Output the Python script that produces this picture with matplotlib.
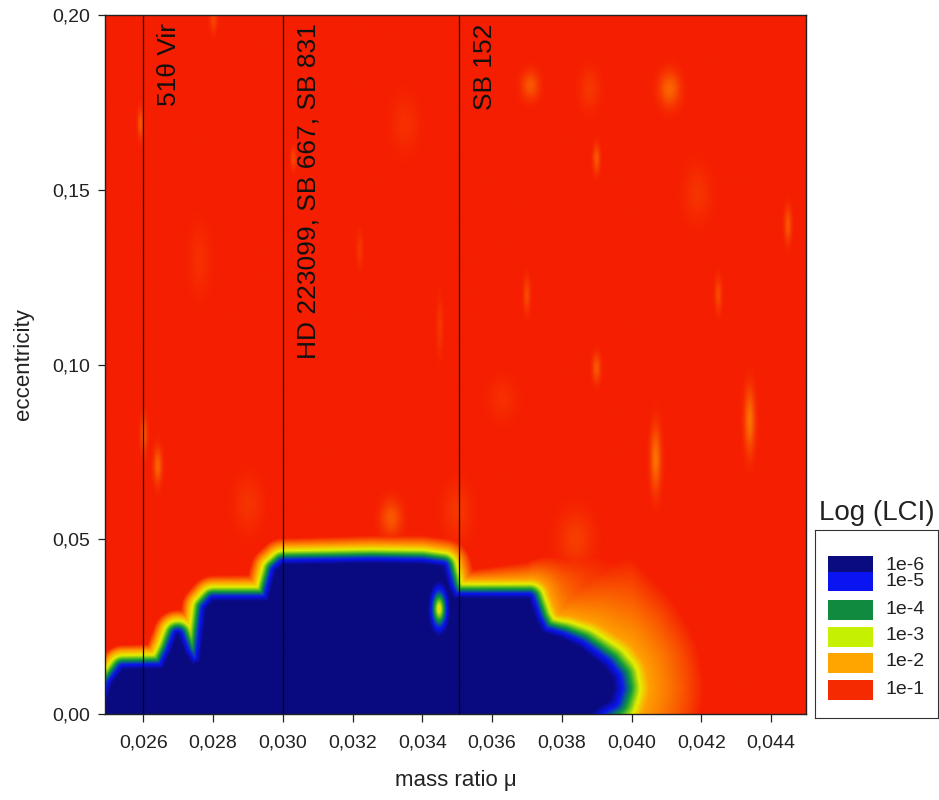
import numpy as np
import matplotlib
matplotlib.use("Agg")
import matplotlib.pyplot as plt
from matplotlib.colors import LinearSegmentedColormap
from matplotlib.path import Path
from matplotlib.patches import Rectangle
from matplotlib.ticker import FuncFormatter, FixedLocator

plt.rcParams['font.family'] = ['Liberation Sans', 'DejaVu Sans']

# ---------------- data ----------------
# outline of the regular region (log LCI ~ -6), mass ratio / eccentricity
stable_mu = [0.0240, 0.02490, 0.02510, 0.02540, 0.02655, 0.02680, 0.02697,
             0.02716, 0.02740, 0.02762, 0.02780, 0.02800, 0.02957, 0.02980, 0.03000,
             0.03250, 0.03400, 0.03458, 0.03474, 0.03490, 0.03705, 0.03725, 0.03745,
             0.03800, 0.03850, 0.03900, 0.03920, 0.03945, 0.03950, 0.03940, 0.03900,
             0.03885]
stable_e = [0.0000, 0.0025, 0.0085, 0.0126, 0.0128, 0.0180, 0.0225,
            0.0176, 0.0138, 0.0150, 0.0300, 0.0322, 0.0322, 0.0408, 0.0426,
            0.0430, 0.0428, 0.0420, 0.0360, 0.0330, 0.0329, 0.0270, 0.0232,
            0.0215, 0.0190, 0.0150, 0.0134, 0.0100, 0.0073, 0.0040, 0.0014,
            0.0000]
purple_top_e = 0.008

# width of the transition band (axis-fraction distance) along the mass ratio
band_mu = [0.0249, 0.0355, 0.0370, 0.0380, 0.0390, 0.0400, 0.0420, 0.0450]
core_width = [0.027, 0.027, 0.028, 0.032, 0.042, 0.050, 0.050, 0.050]
fade_width = [0.008, 0.015, 0.025, 0.045, 0.075, 0.100, 0.080, 0.050]

# chaotic island inside the regular region
hole_mu = [0.03448]
hole_e = [0.0300]
hole_rmu = [0.00032]
hole_re = [0.0080]
hole_peak = [-2.6]

# faint less-chaotic spots in the chaotic sea
spot_mu = [0.0259, 0.0280, 0.0303, 0.0335, 0.0371, 0.0388, 0.0411, 0.0390, 0.0419,
           0.0445, 0.0370, 0.0425, 0.0390, 0.0363, 0.0407, 0.0434, 0.0260, 0.0264,
           0.0345, 0.0331, 0.0322, 0.0276, 0.0290, 0.0350, 0.0384]
spot_e = [0.169, 0.199, 0.159, 0.169, 0.180, 0.179, 0.179, 0.159, 0.149,
          0.140, 0.120, 0.120, 0.099, 0.090, 0.073, 0.084, 0.080, 0.071,
          0.111, 0.056, 0.133, 0.130, 0.060, 0.058, 0.050]
spot_amp = [0.45, 0.3, 0.35, 0.15, 0.45, 0.2, 0.55, 0.45, 0.18,
            0.45, 0.35, 0.35, 0.45, 0.15, 0.65, 0.65, 0.45, 0.55,
            0.2, 0.45, 0.2, 0.15, 0.18, 0.2, 0.25]
spot_wmu = [0.00008, 0.0001, 0.00008, 0.0004, 0.00025, 0.0003, 0.0003, 0.0001, 0.0004,
            0.0001, 0.0001, 0.0001, 0.00012, 0.0004, 0.00015, 0.00015, 0.0001, 0.00012,
            0.0001, 0.0003, 0.0001, 0.0003, 0.0004, 0.0004, 0.0005]
spot_we = [0.004, 0.004, 0.003, 0.008, 0.004, 0.006, 0.005, 0.004, 0.008,
           0.005, 0.005, 0.005, 0.004, 0.006, 0.009, 0.009, 0.005, 0.005,
           0.008, 0.005, 0.005, 0.010, 0.008, 0.008, 0.008]

legend_labels = ['1e-6', '1e-5', '1e-4', '1e-3', '1e-2', '1e-1']
legend_colors = ['#0b0b80', '#0a14f0', '#0f8a3f', '#c5f000', '#ffa500', '#f52a00']

star_mu = [0.026, 0.030, 0.03505]
star_labels = ['51\u03b8 Vir', 'HD 223099, SB 667, SB 831', 'SB 152']

x_ticks = [0.026, 0.028, 0.030, 0.032, 0.034, 0.036, 0.038, 0.040, 0.042, 0.044]
y_ticks = [0.00, 0.05, 0.10, 0.15, 0.20]
mu_lim = (0.0249, 0.0450)
e_lim = (0.0, 0.2)

# ---------------- build the field ----------------
nx, ny = 600, 600
mu = np.linspace(mu_lim[0], mu_lim[1], nx)
ee = np.linspace(e_lim[0], e_lim[1], ny)
MU, EE = np.meshgrid(mu, ee)
U = (MU - mu_lim[0]) / (mu_lim[1] - mu_lim[0])
V = EE / (e_lim[1] - e_lim[0])

pu = (np.array(stable_mu) - mu_lim[0]) / (mu_lim[1] - mu_lim[0])
pv = np.array(stable_e) / (e_lim[1] - e_lim[0])
poly = np.column_stack([pu, pv])
inside = Path(np.vstack([poly, poly[:1]])).contains_points(
    np.column_stack([U.ravel(), V.ravel()])).reshape(U.shape)

dist = np.full(U.shape, np.inf)
for i in range(len(poly)):
    a = poly[i]
    b = poly[(i + 1) % len(poly)]
    ab = b - a
    L2 = max(ab @ ab, 1e-12)
    t = np.clip(((U - a[0]) * ab[0] + (V - a[1]) * ab[1]) / L2, 0, 1)
    dx = U - (a[0] + t * ab[0])
    dy = V - (a[1] + t * ab[1])
    dist = np.minimum(dist, np.hypot(dx, dy))

w1 = np.interp(MU, band_mu, core_width)
w2 = np.interp(MU, band_mu, fade_width)
z_out = -6 + 4 * np.clip(dist / w1, 0, 1) + np.clip((dist - w1) / w2, 0, 1)
z_in = -6 - 0.5 * np.clip(1 - EE / purple_top_e, 0, 1)
Z = np.where(inside, z_in, z_out)

for hm, he, hr1, hr2, hp in zip(hole_mu, hole_e, hole_rmu, hole_re, hole_peak):
    r = np.hypot((MU - hm) / hr1, (EE - he) / hr2)
    Z = np.maximum(Z, hp + (-6 - hp) * np.clip(r, 0, 1))

for sm, se, sa, sw, sh in zip(spot_mu, spot_e, spot_amp, spot_wmu, spot_we):
    g = np.exp(-((MU - sm) / sw) ** 2 - ((EE - se) / sh) ** 2)
    Z = np.minimum(Z, -1 - sa * g)

cmap_nodes = [(-6.5, '#400a9e'), (-6.0, '#0a0a80'), (-5.0, '#0a14f0'),
              (-4.0, '#0c9c36'), (-3.0, '#e4f000'), (-2.0, '#ffa000'),
              (-1.0, '#f51e00')]
vmin, vmax = -6.5, -1.0
cmap = LinearSegmentedColormap.from_list(
    'lci', [((v - vmin) / (vmax - vmin), c) for v, c in cmap_nodes])

# ---------------- figure ----------------
W, H = 939, 800
fig = plt.figure(figsize=(W / 100, H / 100), dpi=100)
ax = fig.add_axes([105 / W, (H - 714) / H, 701 / W, 699 / H])
ax.imshow(Z, extent=[mu_lim[0], mu_lim[1], e_lim[0], e_lim[1]], origin='lower',
          aspect='auto', cmap=cmap, vmin=vmin, vmax=vmax, interpolation='bilinear')
ax.set_xlim(*mu_lim)
ax.set_ylim(*e_lim)

for m, lab in zip(star_mu, star_labels):
    ax.axvline(m, color='black', lw=0.9)
    ax.annotate(lab, xy=(m, 1.0), xycoords=('data', 'axes fraction'),
                xytext=(10, -6), textcoords='offset points', rotation=90,
                ha='left', va='top', fontsize=19, color='#111111')

ax.xaxis.set_major_locator(FixedLocator(x_ticks))
ax.yaxis.set_major_locator(FixedLocator(y_ticks))
ax.xaxis.set_major_formatter(FuncFormatter(lambda v, p: f"{v:.3f}".replace('.', ',')))
ax.yaxis.set_major_formatter(FuncFormatter(lambda v, p: f"{v:.2f}".replace('.', ',')))
ax.tick_params(axis='x', direction='out', length=6, width=0.9, pad=9,
               labelsize=14, colors='#222222')
ax.tick_params(axis='y', direction='out', length=5, width=0.9, pad=6,
               labelsize=14, colors='#222222')
for s in ax.spines.values():
    s.set_linewidth(1.0)
    s.set_color('#222222')
ax.set_xlabel('mass ratio \u03bc', fontsize=16, labelpad=13, color='#222222')
ax.set_ylabel('eccentricity', fontsize=16, labelpad=13, color='#222222')

# ---------------- legend ----------------
lax = fig.add_axes([815 / W, (H - 718) / H, 123 / W, 188 / H])
lax.set_xlim(815, 938)
lax.set_ylim(718, 530)
lax.set_xticks([])
lax.set_yticks([])
for s in lax.spines.values():
    s.set_linewidth(0.8)
    s.set_color('#333333')
box_tops = [556, 572, 600, 627, 653, 680]
box_h = [20, 19, 20, 20, 20, 20]
lab_y = [566, 582, 609, 636, 662, 689]
for col, top, h, lab, ly in zip(legend_colors, box_tops, box_h, legend_labels, lab_y):
    lax.add_patch(Rectangle((828, top), 45, h, facecolor=col, edgecolor='none'))
    lax.text(886, ly, lab, fontsize=14, va='center', ha='left', color='#222222')
fig.text(877 / W, (H - 513) / H, 'Log (LCI)', fontsize=20, ha='center', va='center',
         color='#222222')

fig.savefig('out.png', dpi=100)
